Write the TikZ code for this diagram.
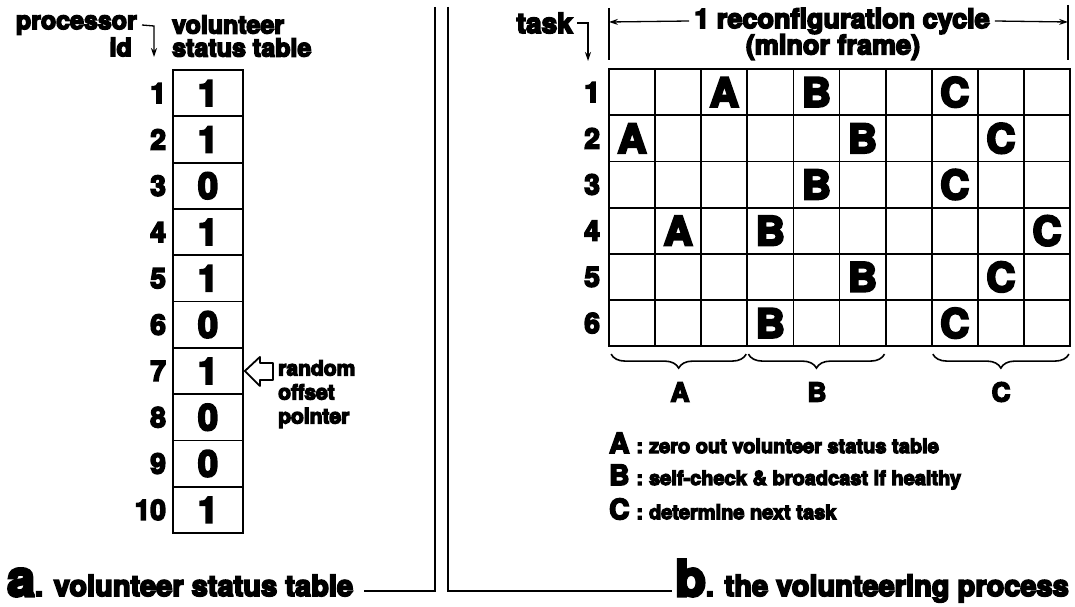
\documentclass[tikz,border=0pt]{standalone}
\usepackage{fontspec}
\setmainfont{TeX Gyre Heros}[BoldFeatures={FakeBold=6}]
\usetikzlibrary{arrows.meta,decorations.pathreplacing}
\begin{document}
\begin{tikzpicture}[x=1pt,y=-1pt,
  every node/.style={inner sep=0pt, font=\bfseries},
  hdr/.style={font=\fontsize{25}{23}\selectfont\bfseries},
  rowlab/.style={font=\fontsize{28}{28}\selectfont\bfseries},
  val/.style={font=\fontsize{36}{36}\selectfont\bfseries},
  cellL/.style={font=\fontsize{40}{40}\selectfont\bfseries},
  leg/.style={font=\fontsize{20}{22}\selectfont\bfseries},
  vbox/.style={draw, line width=1.8pt, minimum width=70pt, minimum height=46.3pt},
  thick line/.style={line width=1.8pt},
  arr/.style={line width=1.3pt, -{Stealth[length=9pt,width=6pt]}},
  brc/.style={line width=1.6pt, decorate, decoration={brace, mirror, amplitude=14pt}}
]
\useasboundingbox (0,0) rectangle (1075,607);

% ---------- panel a ----------
\node[hdr, anchor=east] (proc) at (137,25) {processor};
\node[hdr, anchor=east] (pid) at (132,47) {id};
\draw[arr] ([xshift=5pt]proc.east) -- (154,26) -- (154,57);
\node[hdr, anchor=west, align=left] (vst) at (172,36) {volunteer\\status table};

\foreach \i/\v in {1/1,2/1,3/0,4/1,5/1,6/0,7/1,8/0,9/0,10/1}{
  \node[vbox] (v\i) at (208,{70+(\i-0.5)*46.3}) {};
  \node[val] (vv\i) at (v\i.center) {\v};
  \node[rowlab, anchor=east] (pl\i) at ([xshift=-6pt]v\i.west) {\i};
}

% hollow pointer arrow
\draw[thick line, line join=round] ([xshift=1pt]v7.east) -- ++(15,-14) -- ++(0,6) -- ++(13,0) -- ++(0,17) -- ++(-13,0) -- ++(0,6) -- cycle;
\node[font=\fontsize{21}{24}\selectfont\bfseries, anchor=north west, align=left] (ptr) at (278,360) {random\\offset\\pointer};

% ---------- dividers and captions ----------
\coordinate (dl1) at (435,7);
\coordinate (dl2) at (435,591);
\coordinate (dl3) at (364,591);
\coordinate (dr1) at (448,7);
\coordinate (dr2) at (448,591);
\coordinate (dr3) at (672,591);
\draw[thick line] (dl1) -- (dl2) -- (dl3);
\draw[thick line] (dr1) -- (dr2) -- (dr3);
\node[anchor=base west] (capa) at (7,596) {{\fontsize{50}{50}\selectfont\bfseries a}{\fontsize{29}{29}\selectfont\bfseries. volunteer status table}};
\node[anchor=base east] (capb) at (1069,596) {{\fontsize{50}{50}\selectfont\bfseries b}{\fontsize{29}{29}\selectfont\bfseries. the volunteering process}};

% ---------- panel b ----------
\node[anchor=east, font=\fontsize{28}{28}\selectfont\bfseries] (task) at (573,23) {task};
\draw[arr] ([xshift=4pt]task.east) -- ++(11,0) -- ++(0,38);

\coordinate (bl1) at (609,8);
\coordinate (bl2) at (609,60);
\coordinate (br1) at (1068,5);
\coordinate (br2) at (1068,60);
\draw[thick line] (bl1) -- (bl2);
\draw[thick line] (br1) -- (br2);
\node[font=\fontsize{27}{27}\selectfont\bfseries] (cyc) at (842,21) {1 reconfiguration cycle};
\node[font=\fontsize{27}{27}\selectfont\bfseries] (minor) at (833,47) {(minor frame)};
\draw[arr] ([xshift=-5pt]cyc.west) -- (609,22);
\draw[arr] ([xshift=5pt]cyc.east) -- (1068,22);

% grid
\foreach \r in {1,...,6}{
  \foreach \c in {1,...,10}{
    \node[draw, line width=1.8pt, minimum width=46.1pt, minimum height=46.2pt] (g\r-\c) at ({609+(\c-0.5)*46.1},{69+(\r-0.5)*46.2}) {};
  }
  \node[rowlab, anchor=east] (tl\r) at ([xshift=-8pt]g\r-1.west) {\r};
}
\foreach \r/\c/\L in {1/3/A,1/5/B,1/8/C,2/1/A,2/6/B,2/9/C,3/5/B,3/8/C,4/2/A,4/4/B,4/10/C,5/6/B,5/9/C,6/4/B,6/8/C}{
  \node[cellL] (L\r-\c) at (g\r-\c) {\L};
}

% braces
\draw[brc] ([xshift=3pt,yshift=-7pt]g6-1.south west) -- ([xshift=-2pt,yshift=-7pt]g6-3.south east);
\draw[brc] ([xshift=2pt,yshift=-7pt]g6-4.south west) -- ([xshift=-2pt,yshift=-7pt]g6-6.south east);
\draw[brc] ([xshift=2pt,yshift=-7pt]g6-8.south west) -- ([xshift=-2pt,yshift=-7pt]g6-10.south east);
\node[font=\fontsize{26}{26}\selectfont\bfseries] (bla) at (680,392) {A};
\node[font=\fontsize{26}{26}\selectfont\bfseries] (blb) at (817,392) {B};
\node[font=\fontsize{26}{26}\selectfont\bfseries] (blc) at (1001,392) {C};

% legend
\node[leg, anchor=west] (legA) at (609,443) {{\fontsize{28}{28}\selectfont A}\hspace{7pt}:\hspace{6pt}zero out volunteer status table};
\node[leg, anchor=west] (legB) at (609,477) {{\fontsize{28}{28}\selectfont B}\hspace{7pt}:\hspace{6pt}self-check \& broadcast if healthy};
\node[leg, anchor=west] (legC) at (609,509) {{\fontsize{28}{28}\selectfont C}\hspace{7pt}:\hspace{6pt}determine next task};
\end{tikzpicture}
\end{document}
